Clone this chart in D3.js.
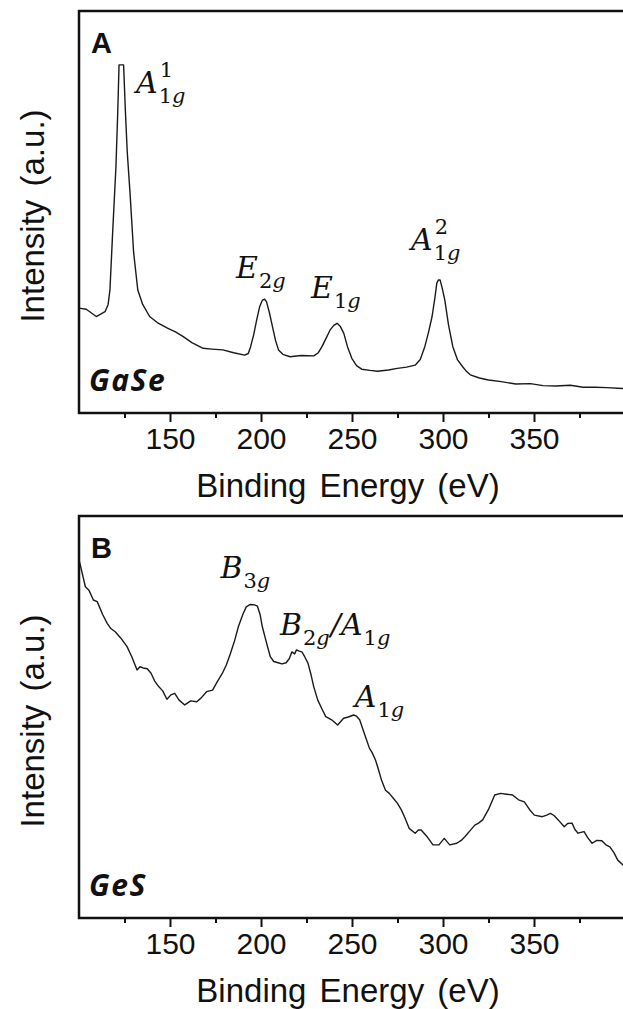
<!DOCTYPE html>
<html>
<head>
<meta charset="utf-8">
<script src="https://cdn.jsdelivr.net/npm/d3@7/dist/d3.min.js"></script>
<style>
  html, body { margin: 0; padding: 0; background: #fff; }
  svg { display: block; }
</style>
</head>
<body>
<svg id="chart" width="623" height="1009"></svg>
<script>
// ---- Data ----
const xTicks = [150, 200, 250, 300, 350];
const xMinorTicks = [125, 175, 225, 275, 325, 375];

// Panel A: GaSe spectrum (x = energy, y = intensity, arbitrary units 0..100)
const gaseX = [100, 104, 109.5, 114.3, 116, 117, 118.5, 120.3, 121.3, 122, 124.5, 125.5, 126.5, 128, 130, 132.3, 135, 138.8, 143, 148.6, 153, 157.3, 162, 168.2, 173, 179, 185, 191, 193, 194.3, 196, 197.6, 199.3, 200.8, 202, 203, 204.6, 206.3, 208, 209.6, 212, 216, 222, 229, 231.5, 233.5, 236, 237.9, 240, 241.8, 243.5, 245.5, 247.5, 249.9, 252.5, 255.3, 260, 264, 270, 274.9, 280, 284.7, 287.5, 290, 292, 294, 295.5, 296.6, 297.5, 298.4, 299.6, 301, 303, 305.4, 308, 310.8, 313, 315, 320, 325, 332, 340, 348, 355, 362, 370, 377, 383.6, 390, 398.6, 400];
const gaseY = [26.1, 25.8, 24.0, 25.2, 27.0, 30.6, 45.0, 61.3, 75.0, 86.6, 86.6, 75.0, 65.0, 55.0, 40.0, 30.6, 27.0, 24.0, 22.5, 21.1, 20.2, 19.0, 17.5, 16.1, 15.9, 15.7, 15.0, 14.4, 14.8, 16.5, 19.5, 23.1, 26.5, 28.1, 28.3, 27.7, 25.0, 21.5, 18.0, 15.7, 14.6, 14.0, 14.3, 14.2, 15.0, 16.5, 18.8, 20.6, 21.8, 22.3, 21.6, 19.8, 16.5, 13.6, 11.8, 10.9, 10.6, 10.4, 10.7, 11.1, 11.4, 11.9, 13.3, 16.5, 20.0, 24.0, 28.5, 32.3, 33.1, 33.1, 31.0, 28.1, 22.0, 16.5, 13.2, 11.5, 10.3, 9.5, 8.7, 8.2, 7.8, 7.2, 7.3, 6.8, 6.7, 6.9, 6.4, 6.4, 6.3, 6.1, 6.0];

// Panel B: GeS spectrum
const gesX = [100.3, 103.5, 105.5, 107.9, 110, 113, 115.5, 117.5, 119.9, 123, 126.4, 129, 131.9, 133.5, 135.2, 137.5, 139.6, 141.5, 143.9, 146, 148.3, 150.5, 152.6, 155, 158.1, 161.4, 164.7, 167, 170.1, 173.4, 176, 178.8, 181, 183.2, 185.5, 187.6, 190, 191.9, 194.1, 196.5, 198, 199.5, 200.7, 203, 205.1, 207, 209.4, 211.5, 213.8, 215.5, 217, 218.5, 219.5, 221, 222.5, 224, 225.8, 227.5, 229, 231.2, 233.5, 235.6, 238.8, 242.1, 245.4, 248, 250.9, 252.5, 254.2, 257.4, 259.6, 261, 262.9, 264.5, 266.2, 268.4, 270.5, 272.7, 275, 277.1, 279, 281.4, 284.7, 286.5, 288, 291.3, 294.5, 297.8, 299.2, 300.7, 302.2, 303.7, 307.6, 310, 312, 315, 317.5, 319.5, 321.8, 325, 328.4, 331.7, 335, 338.2, 341.5, 344.7, 347.5, 350.2, 354.6, 357, 359, 361, 363.3, 366.6, 368.5, 370.9, 372.5, 374.2, 377.5, 379.5, 381.9, 384.5, 387.3, 389.5, 391.7, 394, 396, 398.9, 400];
const gesY = [88.6, 82.4, 81.5, 79.1, 78.7, 75.5, 73.3, 72.0, 71.2, 69.6, 67.5, 65.0, 61.7, 62.5, 62.2, 62.0, 60.9, 59.0, 57.5, 56.5, 54.4, 55.5, 55.9, 54.2, 53.0, 54.0, 53.8, 54.7, 56.3, 56.7, 58.8, 60.9, 63.0, 65.8, 69.0, 72.5, 75.5, 77.4, 78.0, 77.9, 77.6, 75.5, 72.5, 68.5, 65.0, 63.8, 63.5, 63.2, 63.5, 64.5, 66.2, 65.7, 66.7, 66.4, 66.2, 65.0, 63.4, 60.5, 57.5, 54.2, 52.0, 50.1, 49.3, 48.0, 49.7, 50.0, 50.5, 50.2, 49.3, 45.1, 42.2, 41.2, 39.3, 37.0, 34.3, 31.8, 31.0, 29.8, 28.5, 26.9, 25.0, 22.3, 21.1, 21.9, 21.9, 20.2, 18.2, 18.2, 19.0, 19.8, 19.0, 18.2, 18.6, 19.3, 20.2, 21.8, 23.1, 23.6, 24.4, 27.0, 30.6, 31.0, 30.8, 30.6, 29.4, 28.9, 27.0, 25.6, 25.2, 25.6, 26.0, 25.5, 24.4, 22.7, 23.5, 23.6, 22.0, 21.1, 21.5, 20.0, 18.6, 19.3, 19.2, 18.2, 17.7, 16.2, 14.4, 13.2, 12.7];

// Annotations
const panelLetters = ["A", "B"];
const sampleNames = ["GaSe", "GeS"];
const xTitle = "Binding Energy (eV)";
const yTitle = "Intensity (a.u.)";
// peak labels: [base letter, subscript] parts, superscript, anchor (energy, intensity)
const labelsA = [
  { parts: [["A", "1g"]], sup: "1", x: 131.3, y: 79.6 },
  { parts: [["E", "2g"]], sup: "",  x: 186.3, y: 33.6 },
  { parts: [["E", "1g"]], sup: "",  x: 227.5, y: 28.6 },
  { parts: [["A", "1g"]], sup: "2", x: 282.4, y: 40.5 }
];
const labelsB = [
  { parts: [["B", "3g"]], sup: "", x: 177.7, y: 84.5 },
  { parts: [["B", "2g"], ["/", ""], ["A", "1g"]], sup: "", x: 210.4, y: 70.4 },
  { parts: [["A", "1g"]], sup: "", x: 251.5, y: 52.6 }
];

// ---- Layout ----
const svg = d3.select("#chart");
const left = 79, right = 625;
const panels = [
  { top: 11, bottom: 413, xs: gaseX, ys: gaseY, labels: labelsA },
  { top: 516, bottom: 918, xs: gesX, ys: gesY, labels: labelsB }
];
const x = d3.scaleLinear().domain([100, 400]).range([left, right]);

const sansFont = "'Liberation Sans', Arial, sans-serif";
const serifFont = "'DejaVu Serif', 'Liberation Serif', serif";

function drawMath(g, px, py, parts, sup) {
  const t = g.append("text")
    .style("font-family", serifFont).style("font-style", "italic")
    .attr("fill", "#111");
  let cx = px;
  parts.forEach(([base, sub]) => {
    const b = t.append("tspan").attr("x", cx).attr("y", py)
      .style("font-size", "30px").text(base);
    cx += b.node().getComputedTextLength();
    let adv = 0;
    if (sub) {
      const s1 = t.append("tspan").attr("x", cx + 1).attr("y", py + 10)
        .style("font-size", "21px").style("font-style", "normal").text(sub[0]);
      const w1 = s1.node().getComputedTextLength();
      const s2 = t.append("tspan").attr("x", cx + 1 + w1).attr("y", py + 10)
        .style("font-size", "21px").text(sub.slice(1));
      adv = Math.max(adv, w1 + s2.node().getComputedTextLength() + 2);
    }
    cx += adv;
  });
  if (sup) {
    // superscript stacked above the subscript, as its own text
    const bw = t.select("tspan").node().getComputedTextLength();
    g.append("text")
      .attr("x", px + bw + 2).attr("y", py - 16)
      .style("font-family", serifFont)
      .style("font-size", "21px")
      .attr("fill", "#111")
      .text(sup);
  }
}

panels.forEach((p, i) => {
  const y = d3.scaleLinear().domain([0, 100]).range([p.bottom, p.top]);
  const g = svg.append("g");

  // curve
  const pts = p.xs.map((v, k) => [v, p.ys[k]]);
  g.append("path")
    .datum(pts)
    .attr("fill", "none")
    .attr("stroke", "#1a1a1a")
    .attr("stroke-width", 1.4)
    .attr("stroke-linejoin", "round")
    .attr("d", d3.line().x(d => x(d[0])).y(d => y(d[1])));

  // minor ticks
  const minor = g.append("g")
    .attr("transform", `translate(0,${p.bottom})`)
    .call(d3.axisBottom(x).tickValues(xMinorTicks).tickSize(5).tickFormat(""));
  minor.select(".domain").remove();
  minor.selectAll("line").attr("stroke", "#111").attr("stroke-width", 2);

  // major ticks
  const major = g.append("g")
    .attr("transform", `translate(0,${p.bottom})`)
    .call(d3.axisBottom(x).tickValues(xTicks).tickSize(9).tickPadding(6).tickFormat(d3.format("d")));
  major.select(".domain").remove();
  major.selectAll("line").attr("stroke", "#111").attr("stroke-width", 2);
  major.selectAll("text")
    .attr("fill", "#111")
    .style("font-family", sansFont)
    .style("font-size", "30px");

  // frame
  g.append("rect")
    .attr("x", left).attr("y", p.top)
    .attr("width", right - left).attr("height", p.bottom - p.top)
    .attr("fill", "none").attr("stroke", "#111").attr("stroke-width", 2.5);

  // x title
  g.append("text")
    .attr("x", (left + right) / 2 - 4).attr("y", p.bottom + 84)
    .attr("text-anchor", "middle")
    .style("font-family", sansFont).style("font-size", "33px")
    .style("word-spacing", "4px")
    .attr("fill", "#111")
    .text(xTitle);

  // y title
  g.append("text")
    .attr("transform", `translate(44,${(p.top + p.bottom) / 2 + 4}) rotate(-90)`)
    .attr("text-anchor", "middle")
    .style("font-family", sansFont).style("font-size", "33px")
    .style("word-spacing", "4px")
    .attr("fill", "#111")
    .text(yTitle);

  // panel letter
  g.append("text")
    .attr("x", 91).attr("y", p.top + 42)
    .style("font-family", sansFont).style("font-size", "29px").style("font-weight", "bold")
    .attr("fill", "#111")
    .text(panelLetters[i]);

  // sample name
  g.append("text")
    .attr("x", 89).attr("y", p.bottom - 22)
    .style("font-family", "'Open Sans', sans-serif").style("font-size", "30px")
    .style("font-weight", "bold").style("font-style", "italic")
    .style("letter-spacing", "1.5px")
    .attr("fill", "#111")
    .text(sampleNames[i]);

  // peak labels
  p.labels.forEach(l => drawMath(g, x(l.x), y(l.y), l.parts, l.sup));
});
</script>
</body>
</html>
